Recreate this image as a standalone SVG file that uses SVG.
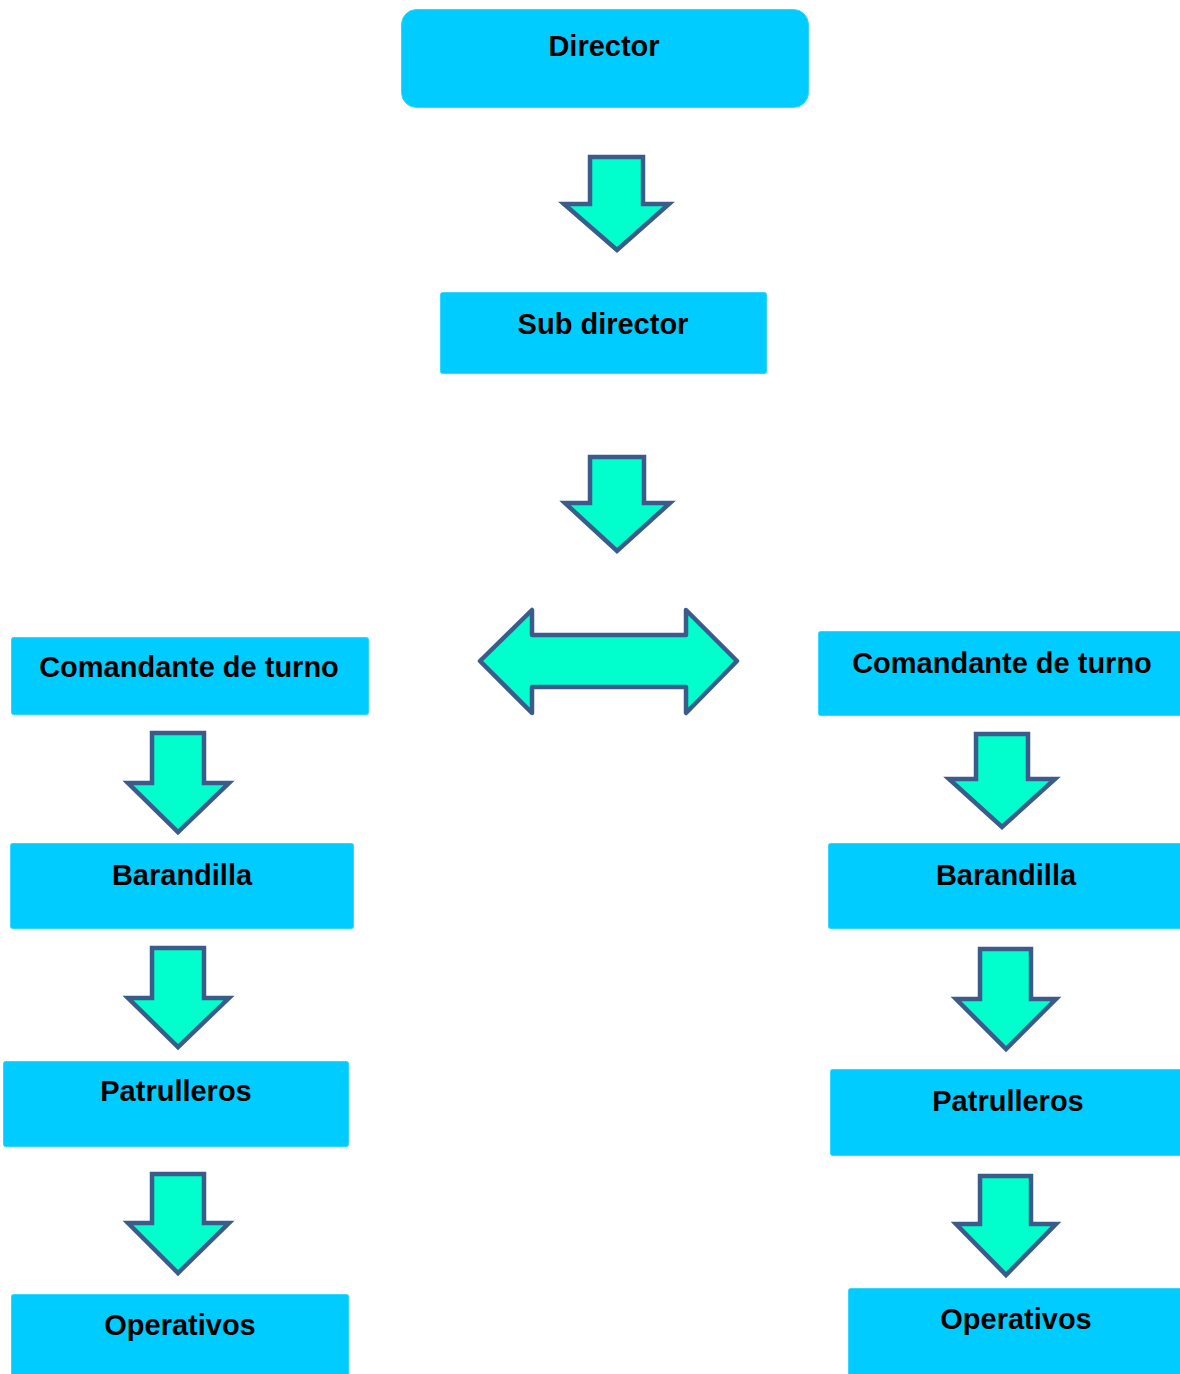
<svg xmlns="http://www.w3.org/2000/svg" width="1180" height="1374" viewBox="0 0 1180 1374">
<style>
.box{fill:#00CCFF;stroke:#33D6FF;stroke-width:1}
.lbl{font-family:"Liberation Sans",Arial,sans-serif;font-weight:bold;font-size:29px;fill:#000;text-anchor:middle}
.arr{fill:#00FFCC;stroke:#3B5C8A;stroke-width:4.5;stroke-linejoin:miter}
.darr{fill:#00FFCC;stroke:#3B5C8A;stroke-width:4.5;stroke-linejoin:round}
</style>
<rect width="1180" height="1374" fill="#fff"/>
<g id="director"><rect class="box" x="401.5" y="9.5" width="407" height="98" rx="15"/><text class="lbl" x="604" y="56">Director</text></g>
<g id="subdirector"><rect class="box" x="440.5" y="292.5" width="326" height="81" rx="2"/><text class="lbl" x="603" y="334">Sub director</text></g>
<g id="comandante-izq"><rect class="box" x="11.5" y="637.5" width="357" height="77" rx="2"/><text class="lbl" x="189" y="677">Comandante de turno</text></g>
<g id="comandante-der"><rect class="box" x="818.5" y="631.5" width="370" height="84" rx="2"/><text class="lbl" x="1002" y="673">Comandante de turno</text></g>
<g id="barandilla-izq"><rect class="box" x="10.5" y="843.5" width="343" height="85" rx="2"/><text class="lbl" x="182" y="885">Barandilla</text></g>
<g id="barandilla-der"><rect class="box" x="828.5" y="843.5" width="360" height="85" rx="2"/><text class="lbl" x="1006" y="885">Barandilla</text></g>
<g id="patrulleros-izq"><rect class="box" x="3.5" y="1061.5" width="345" height="85" rx="2"/><text class="lbl" x="176" y="1101">Patrulleros</text></g>
<g id="patrulleros-der"><rect class="box" x="830.5" y="1069.5" width="360" height="86" rx="2"/><text class="lbl" x="1008" y="1111">Patrulleros</text></g>
<g id="operativos-izq"><rect class="box" x="11.5" y="1294.5" width="337" height="90" rx="2"/><text class="lbl" x="180" y="1335">Operativos</text></g>
<g id="operativos-der"><rect class="box" x="848.5" y="1288.5" width="340" height="96" rx="2"/><text class="lbl" x="1016" y="1329">Operativos</text></g>
<g id="connectors">
<polygon class="arr" points="590,157 643,157 643,204 669,204 617,250 564,204 590,204"/>
<polygon class="arr" points="590,457 644,457 644,503 670,503 617,551 565,503 590,503"/>
<polygon class="darr" points="480,661 532,610 532,635 686,635 686,610 737,661 686,713 686,687 532,687 532,713"/>
<polygon class="arr" points="152,733 204,733 204,783 229,783 178,832 128,783 152,783"/>
<polygon class="arr" points="152,948 204,948 204,998 229,998 178,1047 128,998 152,998"/>
<polygon class="arr" points="152,1174 204,1174 204,1223 229,1223 178,1273 128,1223 152,1223"/>
<polygon class="arr" points="976,734 1028,734 1028,779 1055,779 1002,827 949,779 976,779"/>
<polygon class="arr" points="980,949 1031,949 1031,999 1056,999 1006,1049 956,999 980,999"/>
<polygon class="arr" points="980,1176 1031,1176 1031,1224 1056,1224 1006,1275 956,1224 980,1224"/>
</g>
</svg>
